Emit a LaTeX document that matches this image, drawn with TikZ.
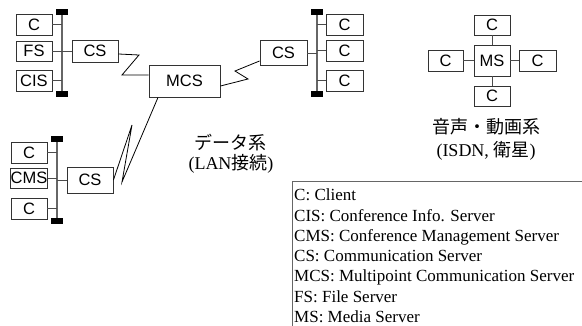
\documentclass[tikz,border=0pt]{standalone}
\usepackage{fontspec}
\setmainfont{Liberation Serif}
\newfontfamily\arial{Liberation Sans}
\newfontfamily\jp{Noto Sans CJK JP}
\begin{document}
\begin{tikzpicture}[x=1pt,y=-1pt,
  box/.style={draw=black!80,line width=0.9pt,inner sep=0pt,font=\arial\fontsize{16.5}{18}\selectfont},
  bus/.style={draw=black!60,line width=1.4pt},
  buscap/.style={fill=black,draw=none,inner sep=0pt,minimum width=12pt,minimum height=6pt},
  link/.style={draw=black!70,line width=0.9pt},
  zz/.style={draw=black,line width=0.8pt},
  jtxt/.style={font=\fontsize{18}{20}\selectfont,inner sep=0pt},
  leg/.style={font=\fontsize{17}{20}\selectfont,inner sep=0pt,anchor=base west}
]
\useasboundingbox (0,0) rectangle (582,326);

% top-left LAN
\node[box,minimum width=36pt,minimum height=21pt] (c1) at (34,24.5) {C};
\node[box,minimum width=36pt,minimum height=20pt] (fs) at (34,51) {FS};
\node[box,minimum width=36pt,minimum height=21pt] (cis) at (34,80.5) {CIS};
\node[buscap] (b1t) at (62,12) {};
\node[buscap] (b1b) at (62,94) {};
\draw[bus] (b1t.center) -- (b1b.center);
\node[buscap] at (62,12) {};
\node[buscap] at (62,94) {};
\node[box,minimum width=46pt,minimum height=22pt] (cs1) at (95,51) {CS};
\draw[link] (c1.east) -- (c1.east -| b1t);
\draw[link] (fs.east) -- (fs.east -| b1t);
\draw[link] (cis.east) -- (cis.east -| b1t);
\draw[link] (cs1.west -| b1t) -- (cs1.west);

% MCS
\node[box,minimum width=71pt,minimum height=32pt] (mcs) at (184.5,81) {MCS};

% top-right LAN
\node[box,minimum width=47pt,minimum height=25pt] (cs2) at (283.5,53) {CS};
\node[buscap] (b2t) at (317,12) {};
\node[buscap] (b2b) at (317,94) {};
\draw[bus] (b2t.center) -- (b2b.center);
\node[buscap] at (317,12) {};
\node[buscap] at (317,94) {};
\node[box,minimum width=37pt,minimum height=21pt] (c2) at (344.5,24.5) {C};
\node[box,minimum width=37pt,minimum height=21pt] (c3) at (344.5,50.5) {C};
\node[box,minimum width=37pt,minimum height=21pt] (c4) at (344.5,80.5) {C};
\draw[link] (c2.west -| b2t) -- (c2.west);
\draw[link] (c3.west -| b2t) -- (c3.west);
\draw[link] (c4.west -| b2t) -- (c4.west);
\draw[link] (cs2.east) -- (cs2.east -| b2t);

% bottom-left LAN
\node[box,minimum width=36pt,minimum height=21pt] (c5) at (29,152.5) {C};
\node[box,minimum width=36pt,minimum height=20pt] (cms) at (29,178) {CMS};
\node[box,minimum width=36pt,minimum height=21pt] (c6) at (29,208.5) {C};
\node[buscap] (b3t) at (57,139.5) {};
\node[buscap] (b3b) at (57,221) {};
\draw[bus] (b3t.center) -- (b3b.center);
\node[buscap] at (57,139.5) {};
\node[buscap] at (57,221) {};
\node[box,minimum width=46pt,minimum height=26pt] (cs3) at (90,180) {CS};
\draw[link] (c5.east) -- (c5.east -| b3t);
\draw[link] (cms.east) -- (cms.east -| b3t);
\draw[link] (c6.east) -- (c6.east -| b3t);
\draw[link] (cs3.west -| b3t) -- (cs3.west);

% zigzag WAN links
\coordinate (z1) at (122,75);
\draw[zz] ([yshift=-3pt]cs1.east) -- (139,55) -- (z1) -- (z1 -| mcs.west);
\draw[zz] ([yshift=-5pt]mcs.east) -- (248,79) -- (235,71) -- ([yshift=-8pt]cs2.west);
\draw[zz] (cs3.east) -- (132,125) -- (122,182) -- ([xshift=-26.5pt]mcs.south);

% MS star
\node[box,minimum width=36pt,minimum height=31pt] (ms) at (492,60.5) {MS};
\node[box,minimum width=36pt,minimum height=20pt] (ct) at (492,25) {C};
\node[box,minimum width=36pt,minimum height=20pt] (cb) at (492,96) {C};
\node[box,minimum width=35pt,minimum height=21pt] (cl) at (445.5,60.5) {C};
\node[box,minimum width=37pt,minimum height=21pt] (cr) at (537.5,60.5) {C};
\draw[link] (ct) -- (ms);
\draw[link] (ms) -- (cb);
\draw[link] (cl) -- (ms);
\draw[link] (ms) -- (cr);

% captions
\node[jtxt] (data) at (230,143) {\jp データ系};
\node[jtxt] (lan) at (231,164) {(LAN{\jp 接続})};
\node[jtxt] (av) at (486,127) {\jp 音声・動画系};
\node[jtxt] (isdn) at (486,151) {(ISDN, {\jp 衛星})};

% legend
\draw[draw=black!60,line width=1pt] (292,340) -- (292,182) -- (590,182);
\node[leg] (l1) at (294,201) {C: Client};
\node[leg] (l2) at (294,221.2) {CIS: Conference Info. Server};
\node[leg] (l3) at (294,241.4) {CMS: Conference Management Server};
\node[leg] (l4) at (294,261.6) {CS: Communication Server};
\node[leg] (l5) at (294,281.8) {MCS: Multipoint Communication Server};
\node[leg] (l6) at (294,302) {FS: File Server};
\node[leg] (l7) at (294,322.2) {MS: Media Server};
\end{tikzpicture}
\end{document}
